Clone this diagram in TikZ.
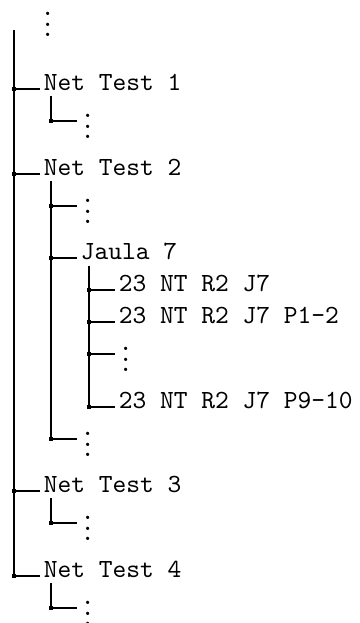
\documentclass[tikz,border=0pt]{standalone}
\begin{document}
\begin{tikzpicture}[x=0.3818pt, y=-0.3818pt,
  font=\ttfamily\fontsize{10}{12}\selectfont,
  entry/.style={anchor=base west, inner sep=0pt, outer xsep=1.5pt},
  rule/.style={line width=0.4pt, black},
  knot/.style={rectangle, fill=black, inner sep=0pt, minimum size=1.6pt}]
  \useasboundingbox (0,0) rectangle (359,623);

  % branch points on the tree rules
  \coordinate (k1)  at (14,89);
  \coordinate (k2)  at (14,174);
  \coordinate (k3)  at (14,491);
  \coordinate (k4)  at (14,576);
  \coordinate (k1a) at (51,121);
  \coordinate (k2a) at (51,206);
  \coordinate (kj)  at (51,258);
  \coordinate (k2b) at (51,439);
  \coordinate (kja) at (89,290);
  \coordinate (kjb) at (89,322);
  \coordinate (kjc) at (89,354);
  \coordinate (kjd) at (89,407);
  \coordinate (k3a) at (51,523);
  \coordinate (k4a) at (51,608);
  % tops of the vertical rules
  \coordinate (t0) at (14,30);
  \coordinate (t1) at (51,96);
  \coordinate (t2) at (51,181);
  \coordinate (tj) at (89,266);
  \coordinate (t3) at (51,498);
  \coordinate (t4) at (51,583);

  % entries
  \node[entry] (root) at (37,36.5) {$\vdots$};
  \node[entry] (nt1)  at (40,90)   {Net Test 1};
  \node[entry] (nt1a) at (77,138.5){$\vdots$};
  \node[entry] (nt2)  at (40,175)  {Net Test 2};
  \node[entry] (nt2a) at (77,223.5){$\vdots$};
  \node[entry] (j7)   at (77,259)  {Jaula 7};
  \node[entry] (j7a)  at (115,291) {23 NT R2 J7};
  \node[entry] (j7b)  at (115,323) {23 NT R2 J7 P1-2};
  \node[entry] (j7c)  at (115,371.5){$\vdots$};
  \node[entry] (j7d)  at (115,408) {23 NT R2 J7 P9-10};
  \node[entry] (nt2b) at (77,456.5){$\vdots$};
  \node[entry] (nt3)  at (40,492)  {Net Test 3};
  \node[entry] (nt3a) at (77,540.5){$\vdots$};
  \node[entry] (nt4)  at (40,577)  {Net Test 4};
  \node[entry] (nt4a) at (77,625.5){$\vdots$};

  % vertical rules
  \draw[rule] (t0) -- (k4);
  \draw[rule] (t1) -- (k1a);
  \draw[rule] (t2) -- (k2b);
  \draw[rule] (tj) -- (kjd);
  \draw[rule] (t3) -- (k3a);
  \draw[rule] (t4) -- (k4a);

  % horizontal rules
  \foreach \k/\n in {k1/nt1, k2/nt2, k3/nt3, k4/nt4, k1a/nt1a, k2a/nt2a,
                     kj/j7, k2b/nt2b, kja/j7a, kjb/j7b, kjc/j7c, kjd/j7d,
                     k3a/nt3a, k4a/nt4a}
    \draw[rule] (\k) -- (\k -| \n.west);

  % square marks at the branch points
  \foreach \k in {k1,k2,k3,k4,k1a,k2a,kj,k2b,kja,kjb,kjc,kjd,k3a,k4a}
    \node[knot] at (\k) {};
\end{tikzpicture}
\end{document}
